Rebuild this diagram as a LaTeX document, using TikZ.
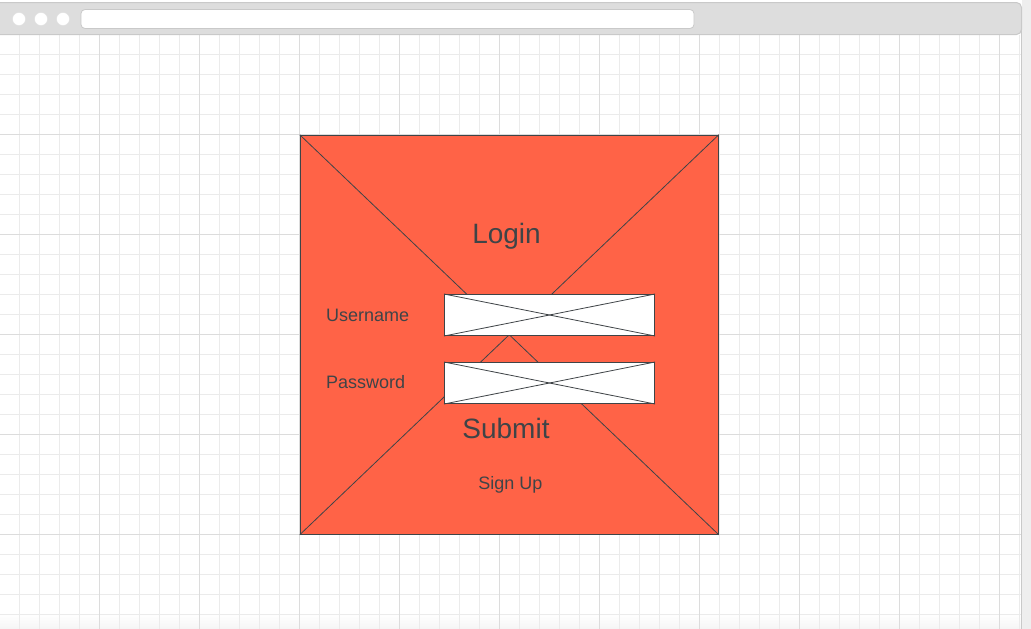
\documentclass[tikz,border=0pt]{standalone}
\usepackage{fontspec}
\setmainfont{Liberation Sans}
\definecolor{gridminor}{HTML}{EBEBEB}
\definecolor{gridmajor}{HTML}{DCDCDC}
\definecolor{barfill}{HTML}{DDDDDD}
\definecolor{baredge}{HTML}{C9C9C9}
\definecolor{sidegray}{HTML}{EEEEEE}
\definecolor{panelfill}{HTML}{FF6347}
\definecolor{ink}{HTML}{3F4447}
\begin{document}
\begin{tikzpicture}[x=1pt,y=-1pt,
  panel/.style={draw=ink, line width=1pt, fill=panelfill, inner sep=0pt,
    minimum width=418pt, minimum height=399pt},
  field/.style={draw=ink, line width=1pt, fill=white, inner sep=0pt,
    minimum width=210pt, minimum height=41pt},
  cross/.style={draw=ink, line width=0.8pt},
  bigtext/.style={text=ink, font=\fontsize{28}{32}\selectfont, inner sep=0pt, anchor=base},
  smalltext/.style={text=ink, font=\fontsize{18}{22}\selectfont, inner sep=0pt, anchor=base},
  dot/.style={circle, fill=white, draw=baredge!60, line width=0.3pt, minimum size=13pt, inner sep=0pt},
  urlbar/.style={draw=baredge, line width=0.8pt, fill=white, rounded corners=4pt,
    minimum width=613pt, minimum height=19pt, inner sep=0pt}
]
\useasboundingbox (0,0) rectangle (1031,629);
\fill[white] (0,0) rectangle (1031,629);

% page strip to the right of the window
\fill[sidegray] (1022,0) rectangle (1031,629);

% faint fade along the lower edge of the canvas
\shade[top color=white, bottom color=black!4] (0,614) rectangle (1022,629);

% canvas grid
\foreach \x in {19.5,39.5,...,1019.5}
  \draw[gridminor, line width=1pt] (\x,34.5) -- (\x,629);
\foreach \y in {54.5,74.5,...,614.5}
  \draw[gridminor, line width=1pt] (0,\y) -- (1021.5,\y);
\foreach \x in {99.5,199.5,...,999.5}
  \draw[gridmajor, line width=1pt] (\x,34.5) -- (\x,629);
\foreach \y in {134.5,234.5,...,534.5}
  \draw[gridmajor, line width=1pt] (0,\y) -- (1021.5,\y);

% window edge
\draw[baredge, line width=1pt] (1021.5,20) -- (1021.5,629);

% title bar
\draw[fill=barfill, draw=baredge, line width=1pt, rounded corners=5pt]
  (-6,34.5) -- (-6,2.5) -- (1021.5,2.5) -- (1021.5,34.5) -- cycle;
\node[dot] (dotA) at (19,19) {};
\node[dot] (dotB) at (41,19) {};
\node[dot] (dotC) at (63,19) {};
\node[urlbar] (url) at (387.5,19) {};

% login panel
\node[panel] (frame) at (509.25,334.75) {};
\draw[cross] (frame.north west) -- (frame.south east);
\draw[cross] (frame.north east) -- (frame.south west);

\node[bigtext] (login) at (506.5,243) {Login};

\node[smalltext, anchor=base west] (user) at (326,321.5) {Username};
\node[field] (userbox) at (549.5,315) {};
\draw[cross] (userbox.north west) -- (userbox.south east);
\draw[cross] (userbox.north east) -- (userbox.south west);

\node[smalltext, anchor=base west] (pass) at (326,388.5) {Password};
\node[field] (passbox) at (549.5,383) {};
\draw[cross] (passbox.north west) -- (passbox.south east);
\draw[cross] (passbox.north east) -- (passbox.south west);

\node[bigtext] (submit) at (506,438) {Submit};
\node[smalltext] (signup) at (510.5,489) {Sign Up};
\end{tikzpicture}
\end{document}
